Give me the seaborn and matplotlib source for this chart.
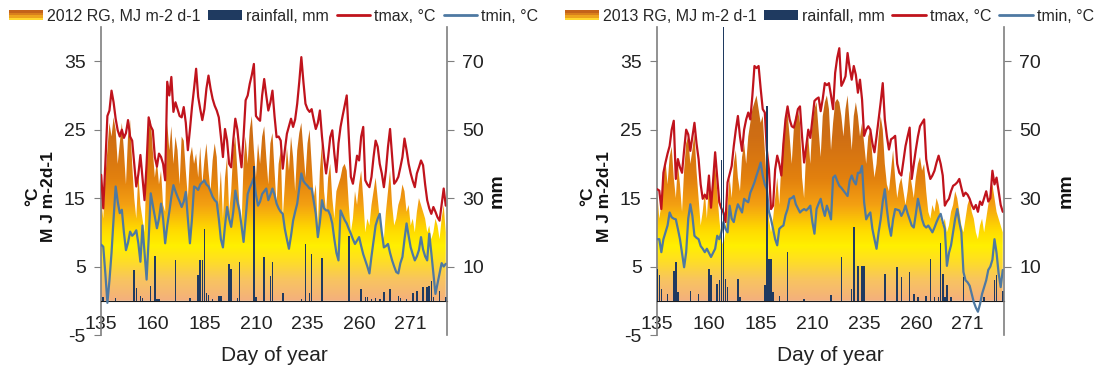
import numpy as np
import matplotlib
matplotlib.use("Agg")
import matplotlib.pyplot as plt
import seaborn as sns
from matplotlib.colors import LinearSegmentedColormap
from matplotlib.patches import Patch, Rectangle
from matplotlib.lines import Line2D
from matplotlib.legend_handler import HandlerBase

days = np.arange(135, 303)
tick_pos = [135, 160, 185, 210, 235, 260, 285]
tick_labels = ["135", "160", "185", "210", "235", "260", "271"]

# ---- 2012 ----
rg_2012 = [
    14.7, 12, 18, 22, 26, 24, 26.8, 25, 20, 23,
    26, 22, 17, 24, 26.4, 20, 15, 12, 18.6, 14,
    12, 10, 20, 25, 26.5, 22, 18, 20.5, 17, 19,
    14, 13, 26, 22, 25.5, 20, 24, 22, 17, 24,
    23.4, 19, 15, 21, 22.5, 20, 21.5, 18, 22.5, 17,
    20.5, 23, 19, 16, 20.5, 23, 21, 14, 19, 12,
    18, 21, 13, 16, 22, 24, 19, 14, 11, 20,
    24, 20, 25, 27, 22, 18, 23, 20, 24, 25.5,
    21, 17, 23, 24.5, 19, 14, 20, 22, 12, 17,
    22.5, 19, 24, 21, 16, 22, 24.5, 26, 22, 18,
    23, 25, 20, 15, 17, 11, 19, 23, 16, 13,
    18, 20, 15, 12, 16, 17, 18, 19.5, 20, 19,
    14, 10, 12, 16, 14, 17, 19, 15, 10, 12,
    11, 14, 16, 18, 15, 12, 10, 9, 13, 16,
    19, 14, 11, 12, 14, 15, 17, 16, 13, 14,
    11, 12, 10, 13, 15, 14, 13, 12, 10, 11,
    9, 10, 12, 11, 9, 12, 14, 10,
]
tmax_2012 = [
    18.4, 13.5, 20, 27, 27.8, 30.7, 29, 26.6, 24.9, 24,
    25, 23.8, 24.5, 26.4, 24, 23.4, 20, 16.7, 18.5, 21.3,
    18, 14.7, 20, 26.8, 25.5, 24.9, 21, 19.6, 21.5, 21,
    20, 17.6, 32, 30, 32.7, 27.6, 29, 28, 27, 26.8,
    28.3, 26, 22, 25, 28.3, 31, 33.9, 29.8, 28, 26.4,
    28, 31, 32.9, 31, 29.5, 28.5, 27.8, 26.8, 24, 21,
    25.1, 23.4, 20, 19.5, 23.4, 26.6, 25, 22, 19.5, 24,
    29.3, 30, 31.7, 33, 34.6, 27, 26.6, 26.3, 30, 32.4,
    30, 27.8, 29, 30.7, 27, 23.9, 24, 23.4, 19.3, 22,
    24.4, 25.5, 26.6, 25.4, 26.5, 28.8, 32, 35.6, 32, 28.8,
    28, 27.6, 28, 26.5, 25.1, 26, 27.8, 24, 21, 18.6,
    21, 23.9, 24.9, 21.5, 18.8, 23, 25.4, 27, 28.5, 30,
    24, 18.1, 17.1, 19, 21.2, 20.5, 24, 25.4, 17.6, 17,
    16.6, 18.1, 21, 23.4, 22.5, 20, 18.6, 16.6, 19, 22.5,
    25.1, 21, 17.1, 17.5, 18.1, 19.5, 21, 23.7, 22, 20,
    18.6, 17.5, 16.6, 18.6, 19.5, 20.5, 19.8, 17, 14.7, 13.5,
    12.7, 13.7, 13, 12.2, 11.7, 14, 16.4, 13.9,
]
tmin_2012 = [
    8.2, 7.9, 4, -0.3, 3, 7, 12, 16.7, 14.5, 12.8,
    13.3, 10, 7.4, 8.5, 10.1, 9.5, 9.8, 10.3, 8.4, 5.7,
    11, 7, 3.1, 9, 15.7, 14, 12.3, 10.6, 12, 14.2,
    12, 8.4, 11, 13, 15.2, 16.9, 16, 15.2, 14.5, 13.7,
    14.5, 15.9, 12, 8.4, 12, 16.7, 16.5, 16.2, 17, 17.3,
    17.6, 17, 16.7, 16, 15.2, 14.7, 14.4, 12, 9, 7.8,
    11, 13.7, 12, 10.8, 13, 16.1, 14.5, 13.2, 11, 8.6,
    12, 15.6, 16.5, 17.2, 18, 15.5, 13.9, 14.5, 15.6, 16,
    16.4, 14.7, 15.5, 16.4, 15.5, 14.2, 13.5, 13, 12.7, 10.5,
    9, 7.6, 9.5, 11.7, 13, 14.2, 16.5, 18.6, 17.5, 17.1,
    16.8, 16.4, 16.4, 14.5, 12.7, 9.3, 11.5, 14.7, 13.5, 13.2,
    13.2, 12.5, 11.3, 9, 7, 5.9, 13.2, 12.5, 11.8, 11.3,
    10.5, 9.8, 9, 8.3, 8.8, 9.3, 8, 6.8, 5.9, 5,
    4, 6.5, 8.8, 11, 12, 12.7, 10, 7.8, 8, 8.3,
    7, 5.9, 5, 4.2, 4, 5.5, 6.4, 9, 11.3, 9.5,
    7.8, 6.8, 5.9, 6.5, 7.4, 9.3, 7.5, 6.5, 5.9, 9.8,
    7, 4, 1, 2.5, 4, 5.5, 5, 5.4,
]
rain_2012_idx = [1, 7, 16, 17, 19, 20, 24, 26, 27, 28, 36, 43, 47, 48, 49, 50, 51, 52,
                 54, 57, 58, 62, 63, 66, 67, 74, 75, 79, 82, 83, 88, 97, 99, 101, 102,
                 107, 120, 126, 128, 129, 131, 133, 135, 137, 140, 144, 145, 148, 151,
                 153, 156, 158, 159, 160, 161, 164, 167]
rain_2012_mm = [1.0, 0.8, 9, 3.7, 1.3, 0.8, 4.2, 13, 0.5, 0.5, 12, 0.8, 7.6, 12, 12, 21, 2.2, 1.8,
                0.5, 1.5, 1.5, 10.7, 9.3, 0.8, 11.2, 39.5, 1.2, 12.7, 7.3, 11.2, 2.2, 0.6, 16.6, 2.4, 13.6,
                12.4, 19, 3.4, 1, 1, 0.6, 0.8, 0.6, 2.6, 3.4, 1.5, 0.8, 0.6, 2.4,
                2.9, 3.9, 3.9, 4.4, 5.8, 1, 3, 1]

# ---- 2013 ----
rg_2013 = [
    16, 12, 14, 18, 20.5, 17, 21, 22.5, 18, 15,
    20, 17, 13, 19, 23, 24, 20, 22, 24.5, 19,
    15, 11, 13, 16, 12, 17, 14, 18, 20, 16,
    12, 9, 8, 10, 14, 18, 15, 20, 22, 18,
    16, 21, 23, 20, 24, 26, 28, 29, 30, 28,
    26, 27, 22, 17, 12, 10, 12, 15, 18, 14,
    20, 24, 26, 27.5, 24, 20, 25, 27, 28, 26,
    18, 15, 22, 24, 20, 26, 28, 29, 25, 21,
    27, 29, 30, 28, 22, 26, 29, 29.5, 29, 27,
    24, 28, 30, 26, 22, 27, 29, 27, 24, 26,
    23, 20, 24, 25, 21, 18, 20, 24, 27, 25,
    20, 17, 16, 19, 22, 18, 15, 17, 18, 16,
    14, 16, 19, 17, 15, 18, 20, 21, 19, 20,
    16, 13, 12, 14, 13, 15, 14, 12, 11, 12,
    10, 11, 13, 14, 16, 15, 13, 11, 10, 12,
    14, 15, 13, 12, 10, 9, 11, 12, 10, 12,
    14, 16, 17, 15, 13, 12, 11, 10,
]
tmax_2013 = [
    16.3, 16.1, 13.4, 18.7, 20.2, 21.5, 22.6, 25, 26.3, 17.8,
    20.7, 19.5, 18.7, 22, 25, 24.3, 21.9, 24, 26, 23,
    20.7, 17, 14.9, 15.5, 14.9, 18.3, 13.6, 17.5, 21.7, 18,
    14.4, 13.5, 12.9, 11.5, 17.3, 18.5, 19.7, 22.6, 25, 27,
    24, 21.9, 25, 26.5, 27.5, 26.5, 30, 34.3, 34, 34.3,
    31, 28, 27.5, 22, 19.2, 13.4, 13.9, 19.2, 21.2, 20,
    18.3, 23, 26.5, 28.4, 26.5, 25.5, 25.3, 26.5, 28, 28.4,
    24, 20.2, 22.5, 25, 23.8, 26.5, 29.2, 29.5, 29.7, 27.7,
    29.5, 31.8, 31.5, 31.8, 30, 28, 33.3, 35.5, 36.9, 31.4,
    32, 32.8, 36.2, 34, 32.3, 34.3, 33, 30.4, 32.3, 29.4,
    24.1, 25, 25.5, 25, 23, 21.7, 24, 26.5, 29, 31.8,
    26.5, 24, 22.1, 23.6, 23.8, 24.1, 20, 18.7, 18.3, 20.5,
    22.6, 24, 25.3, 17.8, 20, 22.1, 24, 25.5, 26, 26.5,
    20.7, 19, 17.8, 18.3, 19, 20.2, 21.2, 20, 18.3, 13.9,
    14.5, 14.9, 16, 16.8, 17, 17.3, 17.8, 16.5, 15.3, 15.8,
    15.5, 14.9, 14, 13.4, 14, 13, 14.5, 14, 15, 16,
    14.5, 15, 19, 17, 18, 16, 14, 13,
]
tmin_2013 = [
    9, 9, 7.1, 9, 10, 11, 12.9, 12.2, 12, 11.9,
    10.5, 9, 7, 4.9, 7.1, 12, 14.1, 12.4, 9.5, 9.2,
    9, 8, 7.6, 7.1, 7.6, 7, 6.4, 7, 7.6, 9.5,
    9, 10, 11.5, 10.5, 10, 13.9, 12, 11.5, 13, 14.1,
    13.5, 12.9, 14.9, 14.6, 14.4, 15.8, 16.5, 17.3, 18.3, 19.2,
    20.2, 18.3, 17, 16.3, 13, 11.9, 10.5, 9, 8.1, 10.5,
    10.8, 11, 12.5, 13.4, 14.9, 15, 15.3, 14.1, 13.5, 12.9,
    13.2, 13.4, 13.2, 13.5, 13.9, 11.5, 9.8, 13.4, 14.2, 14.9,
    13.5, 12.4, 13.9, 13, 11.9, 18, 18.3, 17.5, 16.8, 16.5,
    16.1, 15.7, 15.3, 17.5, 18.3, 17.5, 17, 18.7, 18.7, 19.7,
    14.4, 11.9, 12.5, 12.9, 10.5, 9, 7.6, 10, 11.9, 14.5,
    16.3, 13.4, 11, 9.5, 11.9, 13.4, 13.3, 13.2, 12.4, 13,
    13.9, 12.8, 11.9, 11, 10.7, 12.7, 14.9, 13.5, 11.9, 11,
    10.7, 11, 10.5, 10, 10.7, 11.5, 12.2, 12.7, 11.5, 10.5,
    5.1, 7, 8.1, 10, 12, 13.4, 11.5, 10, 4.2, 3,
    2.7, 2.2, 1, -0.2, -1, -1.6, -0.5, 1, 2, 3,
    4.5, 5, 6, 9, 7, 4, 2, 4.5,
]
rain_2013_idx = [0, 1, 2, 5, 8, 9, 10, 16, 20, 25, 26, 29, 30, 31, 32, 33, 34, 39, 40,
                 52, 53, 54, 55, 56, 59, 63, 71, 84, 89, 94, 95, 97, 99, 100, 110, 116,
                 118, 122, 124, 126, 130, 132, 134, 136, 137, 138, 139, 140, 142, 148,
                 158, 163, 164, 167]
rain_2013_mm = [9.3, 7.4, 3.5, 2, 8.8, 11.3, 2.5, 3, 2, 9.3, 7.4, 5, 6, 41, 85, 6.4, 4, 6.4, 1,
                4.5, 57, 12.2, 12.2, 2.5, 1.5, 14.2, 0.5, 1.7, 12.7, 3.5, 21.5, 10.3, 10.3, 10.3, 7.9, 9.8,
                6.9, 8.3, 2, 1, 1.5, 12.2, 1, 1, 17, 7.9, 1, 4.5, 1, 6.9,
                1, 6, 7.5, 3]

C_TMAX = "#C0131C"
C_TMIN = "#4E79A2"
C_RAIN = "#1F3A60"

grad_cmap = LinearSegmentedColormap.from_list("rg", [
    (0.0, "#F4B07C"), (3 / 40, "#F8C460"), (6 / 40, "#FFE020"), (8 / 40, "#FFF000"),
    (10.5 / 40, "#FFD800"), (14 / 40, "#F4A012"), (18 / 40, "#E2800E"),
    (24 / 40, "#CF6E14"), (1.0, "#B86018"),
])


class GradHandler(HandlerBase):
    # legend key for the gradient area: stacked strips dark orange -> yellow
    def create_artists(self, legend, orig_handle, xdescent, ydescent,
                       width, height, fontsize, trans):
        cols = ["#C4631A", "#D9801C", "#EDA41E", "#FFD830"]
        h = height / len(cols)
        return [Rectangle((-xdescent, -ydescent + height - (k + 1) * h), width, h,
                          facecolor=c, edgecolor="none", transform=trans)
                for k, c in enumerate(cols)]


sns.set_style("white")
plt.rcParams["font.family"] = ["Liberation Sans", "DejaVu Sans"]
plt.rcParams["axes.unicode_minus"] = False

fig = plt.figure(figsize=(10.99, 3.77), dpi=100)


def panel(rect, year, rg, tmax, tmin, rain_idx, rain_mm, mm_x):
    ax = fig.add_axes(rect)
    rain = np.zeros(len(days))
    rain[rain_idx] = rain_mm

    # gradient-filled RG area
    poly = ax.fill_between(days, rg, 0, facecolor="none", edgecolor="none")
    grad = np.linspace(0, 40, 400).reshape(-1, 1)
    im = ax.imshow(grad, cmap=grad_cmap, vmin=0, vmax=40, origin="lower",
                   extent=[days[0], days[-1], 0, 40], aspect="auto", zorder=1)
    im.set_clip_path(poly.get_paths()[0], transform=ax.transData)

    sns.lineplot(x=days, y=tmax, ax=ax, color=C_TMAX, linewidth=1.6, zorder=3)
    sns.lineplot(x=days, y=tmin, ax=ax, color=C_TMIN, linewidth=1.6, zorder=3)

    ax.set_xlim(days[0] - 0.1, days[-1] + 0.6)
    ax.set_ylim(-5, 40)
    ax.set_yticks([-5, 5, 15, 25, 35])
    ax.set_xticks(tick_pos)
    ax.set_xticklabels(tick_labels)
    ax.spines["top"].set_visible(False)
    ax.spines["right"].set_visible(False)
    ax.spines["bottom"].set_position(("data", 0))
    ax.spines["bottom"].set_color("#1a1a1a")
    ax.spines["left"].set_color("#7f7f7f")
    ax.spines["left"].set_linewidth(1.2)
    ax.tick_params(axis="y", direction="out", length=5, color="#7f7f7f",
                   labelsize=14, pad=6, labelcolor="#222222")
    ax.tick_params(axis="x", direction="out", length=8, color="#1a1a1a",
                   labelsize=14, pad=3, labelcolor="#222222")
    ax.set_xlabel("Day of year", fontsize=15, labelpad=0, color="#222222")
    ax.xaxis.set_label_coords(0.5, -0.035)
    ax.set_ylabel("")
    ax.text(-0.175, 0.45, "°C\nM J m-2d-1", transform=ax.transAxes, rotation=90,
            ha="center", va="center", multialignment="center",
            fontsize=12.5, fontweight="bold", linespacing=1.1, color="#111111")

    axr = ax.twinx()
    axr.bar(days, rain, width=0.75, color=C_RAIN, edgecolor="none", linewidth=0, zorder=2)
    axr.set_ylim(-10, 80)
    axr.set_yticks([10, 30, 50, 70])
    for s in ["top", "left", "bottom"]:
        axr.spines[s].set_visible(False)
    axr.spines["right"].set_color("#7f7f7f")
    axr.spines["right"].set_linewidth(1.2)
    axr.tick_params(axis="y", direction="out", length=5, color="#7f7f7f",
                    labelsize=14, pad=6, labelcolor="#222222")
    axr.text(mm_x, 0.47, "mm", transform=axr.transAxes, rotation=90,
             ha="center", va="center", fontsize=14, fontweight="bold", color="#111111")

    handles = [
        Patch(facecolor="#DE8418", edgecolor="none"),
        Patch(facecolor=C_RAIN, edgecolor="none"),
        Line2D([], [], color=C_TMAX, linewidth=2),
        Line2D([], [], color=C_TMIN, linewidth=2),
    ]
    labels = [f"{year} RG, MJ m-2 d-1", "rainfall, mm", "tmax, °C", "tmin, °C"]
    axr.legend(handles, labels, loc="center left", bbox_to_anchor=(-0.265, 1.035),
               ncol=4, frameon=False, fontsize=11.5, handlelength=2.1,
               handleheight=0.6, handletextpad=0.25, columnspacing=0.5,
               borderaxespad=0, borderpad=0,
               handler_map={handles[0]: GradHandler()})
    return ax, axr


panel([101 / 1099, 42 / 377, 346 / 1099, 308 / 377], 2012,
      rg_2012, tmax_2012, tmin_2012, rain_2012_idx, rain_2012_mm, 1.145)
panel([657 / 1099, 42 / 377, 347 / 1099, 308 / 377], 2013,
      rg_2013, tmax_2013, tmin_2013, rain_2013_idx, rain_2013_mm, 1.18)

fig.savefig("out.png", dpi=100)
